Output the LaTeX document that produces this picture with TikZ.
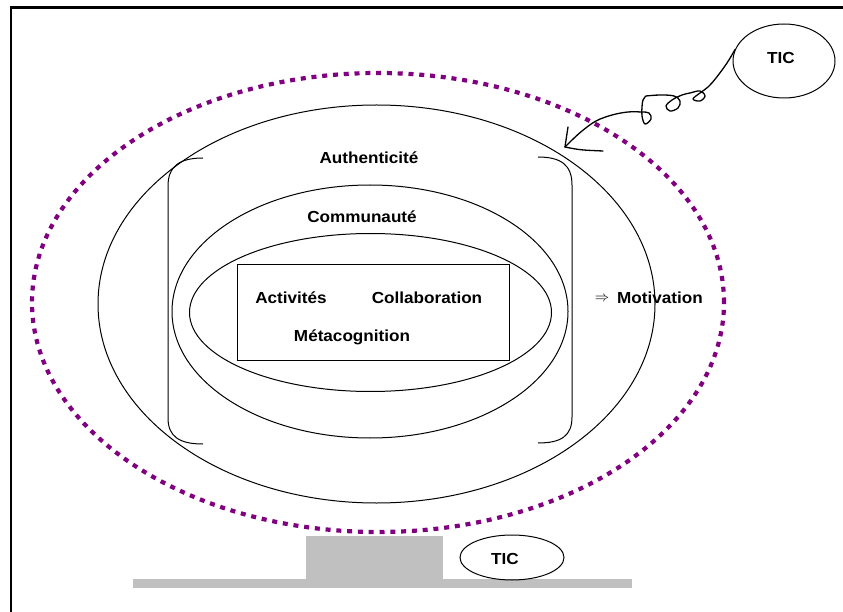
\documentclass[tikz,border=0pt]{standalone}
\usepackage{fontspec}
\newfontfamily\lab[FakeStretch=1.07]{Liberation Sans}
\usetikzlibrary{shapes.geometric}
\definecolor{dotpurple}{RGB}{128,0,128}
\definecolor{basegray}{RGB}{192,192,192}
\begin{document}
\begin{tikzpicture}[x=1pt,y=-1pt,
  ring/.style={ellipse, draw, line width=1pt, inner sep=0pt},
  lbl/.style={font=\lab\bfseries\fontsize{16}{19}\selectfont, inner sep=0pt, anchor=base},
  pen/.style={line width=1.3pt, line cap=round, line join=round},
  bracket/.style={line width=1pt}]
\useasboundingbox (0,0) rectangle (843,612);

% page frame (top and left rules)
\draw[line width=2.7pt] (11,612) -- (11,7.5) -- (843,7.5);

% grey base under the rings
\fill[basegray] (133,579) rectangle (632,588);
\fill[basegray] (306,536) rectangle (443,579);

% dotted outer halo
\node[ellipse, draw=dotpurple, line width=4.2pt, dash pattern=on 5pt off 5.8pt,
      minimum width=692pt, minimum height=459pt, inner sep=0pt] (halo) at (378,302.5) {};

% nested rings
\node[ring, minimum width=557pt, minimum height=398pt] (auth) at (376.5,304) {};
\node[ring, minimum width=396pt, minimum height=253pt] (comm) at (370,311.5) {};
\node[ring, minimum width=362pt, minimum height=158pt] (core) at (370.5,312.5) {};
\node[draw, line width=1pt, minimum width=272pt, minimum height=95pt, inner sep=0pt] (box) at (373,312.5) {};

% round brackets
\draw[bracket] (203,158) .. controls (180,158) and (168,166) .. (168,186) -- (168,418)
               .. controls (168,437) and (180,444) .. (203,444);
\draw[bracket] (538,157) .. controls (561,157) and (572,165) .. (572,185) -- (572,417)
               .. controls (572,436) and (561,443) .. (538,443);

% labels
\node[lbl] (tauth) at (369,164) {Authenticité};
\node[lbl] (tcomm) at (362,223) {Communauté};
\node[lbl] (tact) at (291,303) {Activités};
\node[lbl] (tcoll) at (427,303) {Collaboration};
\node[lbl] (tmeta) at (352,341) {Métacognition};
\node[inner sep=0pt, font=\fontsize{15}{15}\selectfont] (impl) at (602,299) {$\Rightarrow$};
\node[lbl, anchor=base west] (tmot) at (617,303) {Motivation};

% TIC bubbles
\node[ring, minimum width=102pt, minimum height=74pt] (tictop) at (784,61) {};
\node[lbl, anchor=base] (tictoptxt) at (781,64) {TIC};
\node[ring, minimum width=104pt, minimum height=45pt] (ticbase) at (512,557.5) {};
\node[lbl, anchor=base] (ticbasetxt) at (505,564) {TIC};

% hand-drawn arrow from the upper TIC bubble
\coordinate (tip) at (565,147);
\draw[pen] plot[smooth, tension=0.6] coordinates {(tictop.167) (727,63) (716,78) (708,87)
  (700,93) (693,99) (700,101) (705,96) (700,91) (690,93) (682,95) (672,100) (666,106)
  (670,111) (678,108) (680,101) (674,96) (660,95) (646,96)};
\draw[pen] plot[smooth, tension=0.6] coordinates {(646,96) (643,100) (642,107) (642,116)
  (645,124) (651,119) (649,113) (641,112) (628,112) (612,115) (596,121) (582,131)
  (571,141) (tip)};
\draw[pen] (tip) .. controls (566,140) .. (568,127);
\draw[pen] (tip) .. controls (580,150) .. (603,151);
\end{tikzpicture}
\end{document}
